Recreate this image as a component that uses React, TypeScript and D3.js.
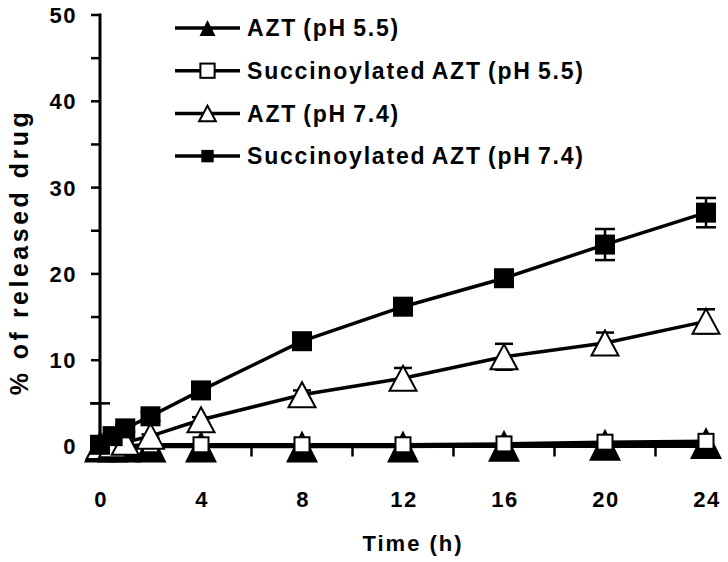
import React from "react";
import * as d3 from "d3";

const times = [0, 0.5, 1, 2, 4, 8, 12, 16, 20, 24];
const azt55 = [0, 0, 0, 0, 0, 0, 0, 0.1, 0.2, 0.4];
const azt55Err = [0, 0, 0, 0, 0, 0, 0, 0, 0, 0];
const succ55 = [0.1, 0.1, 0.1, 0.2, 0.2, 0.2, 0.2, 0.3, 0.5, 0.6];
const succ55Err = [0, 0, 0, 0, 0, 0, 0, 0, 0, 0];
const azt74 = [0, 0.2, 0.5, 1.2, 3.1, 6.0, 7.9, 10.4, 12.0, 14.5];
const azt74Err = [0, 0, 0, 0.2, 0.3, 0.5, 1.2, 1.5, 1.2, 1.4];
const succ74 = [0.2, 1.2, 2.1, 3.5, 6.5, 12.2, 16.2, 19.5, 23.4, 27.1];
const succ74Err = [4.8, 0.3, 0.4, 0.5, 0.5, 0.5, 0.6, 0.5, 1.8, 1.7];

const seriesNames = [
  "AZT (pH 5.5)",
  "Succinoylated AZT (pH 5.5)",
  "AZT (pH 7.4)",
  "Succinoylated AZT (pH 7.4)",
];
const yTicks = [0, 10, 20, 30, 40, 50];
const yMinorTicks = [5, 15, 25, 35, 45];
const xTicks = [0, 4, 8, 12, 16, 20, 24];
const xMinorTicks = [2, 6, 10, 14, 18, 22];
const xTitle = "Time (h)";
const yTitle = "% of released drug";

const FONT = "'Liberation Sans', Arial, Helvetica, sans-serif";

type Shape = "triFilled" | "sqOpen" | "triOpen" | "sqFilled";
const series = [
  { name: seriesNames[0], values: azt55, err: azt55Err, shape: "triFilled" as Shape },
  { name: seriesNames[1], values: succ55, err: succ55Err, shape: "sqOpen" as Shape },
  { name: seriesNames[2], values: azt74, err: azt74Err, shape: "triOpen" as Shape },
  { name: seriesNames[3], values: succ74, err: succ74Err, shape: "sqFilled" as Shape },
];

function Marker({ shape, x, y, scale = 1 }: { shape: Shape; x: number; y: number; scale?: number }) {
  if (shape === "triFilled") {
    const w = 32 * scale, h = 32 * scale;
    return <path d={`M${x},${y - h / 2}L${x + w / 2},${y + h / 2}L${x - w / 2},${y + h / 2}Z`} fill="#000" />;
  }
  if (shape === "triOpen") {
    const w = 27 * scale, h = 25 * scale;
    return (
      <path
        d={`M${x},${y - h / 2}L${x + w / 2},${y + h / 2}L${x - w / 2},${y + h / 2}Z`}
        fill="#fff"
        stroke="#000"
        strokeWidth={2}
      />
    );
  }
  if (shape === "sqOpen") {
    const s = 15 * scale;
    return <rect x={x - s / 2} y={y - s / 2} width={s} height={s} fill="#fff" stroke="#000" strokeWidth={2} />;
  }
  const s = 20 * scale;
  return <rect x={x - s / 2} y={y - s / 2} width={s} height={s} fill="#000" />;
}

export default function App() {
  const W = 728, H = 562;
  const x = d3.scaleLinear().domain([0, 24]).range([100, 706]);
  const y = d3.scaleLinear().domain([0, 50]).range([446.5, 15]);
  const line = d3
    .line<[number, number]>()
    .x((d) => x(d[0]))
    .y((d) => y(d[1]));

  const legendX1 = 175, legendX2 = 240, legendTextX = 247;
  const legendY = (i: number) => 28 + i * 42.7;

  return (
    <svg width={W} height={H} style={{ position: "absolute", left: 0, top: 0, background: "#fff" }}>
      <rect width={W} height={H} fill="#fff" />
      {/* Axes */}
      <line x1={x(0)} x2={x(0)} y1={y(50) - 1.5} y2={y(0) + 1.5} stroke="#000" strokeWidth={3} />
      {[...yTicks, ...yMinorTicks].map((t) => (
        <line key={"yt" + t} x1={x(0) - 9} x2={x(0)} y1={y(t)} y2={y(t)} stroke="#000" strokeWidth={2.5} />
      ))}
      {yTicks.map((t) => (
        <text
          key={"yl" + t}
          x={77}
          y={y(t)}
          dy="0.36em"
          textAnchor="end"
          fontFamily={FONT}
          fontWeight="bold"
          fontSize={22}
          letterSpacing={1.5}
          fill="#000"
        >
          {t}
        </text>
      ))}
      <line x1={x(0)} x2={x(24)} y1={y(0)} y2={y(0)} stroke="#000" strokeWidth={3} />
      {[...xTicks, ...xMinorTicks].map((t) => (
        <line key={"xt" + t} x1={x(t)} x2={x(t)} y1={y(0)} y2={y(0) + 10} stroke="#000" strokeWidth={2.5} />
      ))}
      {xTicks.map((t) => (
        <text
          key={"xl" + t}
          x={x(t) + 1}
          y={507}
          textAnchor="middle"
          fontFamily={FONT}
          fontWeight="bold"
          fontSize={22}
          letterSpacing={1.5}
          fill="#000"
        >
          {t}
        </text>
      ))}
      <text
        x={413}
        y={551}
        textAnchor="middle"
        fontFamily={FONT}
        fontWeight="bold"
        fontSize={22}
        letterSpacing={2}
        fill="#000"
      >
        {xTitle}
      </text>
      <text
        transform={`translate(28,252) rotate(-90)`}
        textAnchor="middle"
        fontFamily={FONT}
        fontWeight="bold"
        fontSize={25}
        letterSpacing={3.5}
        fill="#000"
      >
        {yTitle}
      </text>

      {/* Lines */}
      {series.map((s, i) => (
        <path
          key={"ln" + i}
          d={line(times.map((t, j) => [t, s.values[j]] as [number, number])) || ""}
          fill="none"
          stroke="#000"
          strokeWidth={3.5}
        />
      ))}
      {/* Error bars */}
      {series.map((s, i) =>
        times.map((t, j) => {
          const e = s.err[j];
          if (!e) return null;
          const cw = s.shape === "sqFilled" ? 20 : 18;
          const top = y(s.values[j] + e);
          const bot = y(Math.max(0, s.values[j] - e));
          return (
            <g key={`eb${i}-${j}`} stroke="#000" strokeWidth={2.5}>
              <line x1={x(t)} x2={x(t)} y1={top} y2={bot} />
              <line x1={x(t) - cw / 2} x2={x(t) + cw / 2} y1={top} y2={top} />
              <line x1={x(t) - cw / 2} x2={x(t) + cw / 2} y1={bot} y2={bot} />
            </g>
          );
        })
      )}
      {/* Markers */}
      {series.map((s, i) =>
        times.map((t, j) => <Marker key={`mk${i}-${j}`} shape={s.shape} x={x(t)} y={y(s.values[j])} />)
      )}

      {/* Legend */}
      {series.map((s, i) => (
        <g key={"lg" + i}>
          <line x1={legendX1} x2={legendX2} y1={legendY(i)} y2={legendY(i)} stroke="#000" strokeWidth={3.5} />
          <Marker shape={s.shape} x={(legendX1 + legendX2) / 2} y={legendY(i)} scale={s.shape === "triFilled" ? 0.5 : s.shape === "sqOpen" ? 0.95 : 0.62} />
          <text
            x={legendTextX}
            y={legendY(i)}
            dy="0.36em"
            fontFamily={FONT}
            fontWeight="bold"
            fontSize={23}
            letterSpacing={1.8}
            wordSpacing={-2}
            fill="#000"
          >
            {s.name}
          </text>
        </g>
      ))}
    </svg>
  );
}
